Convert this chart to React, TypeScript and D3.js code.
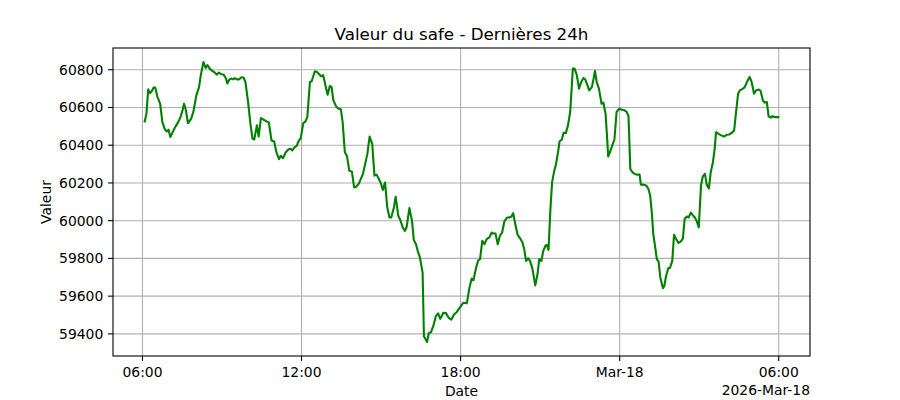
import { extent, line, scaleLinear } from "d3";

// minutes after 2026-03-17 06:00, one reading per sample
const minutes = [
  5, 9, 13, 17, 21, 25, 29, 34, 40, 45, 51, 55, 59, 63, 69, 75, 81, 86, 91, 94,
  98, 103, 110, 115, 122, 128, 132, 138, 143, 147, 153, 158, 164, 168, 173, 179, 184, 189, 192, 197,
  201, 205, 209, 214, 219, 224, 229, 233, 239, 244, 249, 253, 259, 263, 268, 274, 281, 286, 292, 298,
  303, 309, 313, 318, 324, 330, 335, 339, 344, 349, 354, 358, 364, 369, 373, 379, 383, 390, 395, 400,
  404, 409, 414, 419, 424, 428, 432, 438, 443, 449, 453, 458, 463, 468, 474, 479, 484, 490, 499, 504,
  509, 514, 520, 525, 530, 535, 540, 544, 549, 554, 559, 563, 569, 573, 579, 584, 589, 594, 598, 604,
  610, 614, 619, 623, 628, 634, 637, 644, 648, 653, 658, 664, 669, 674, 681, 687, 693, 699, 705, 711,
  719, 726, 734, 740, 745, 749, 755, 760, 764, 769, 774, 779, 785, 790, 794, 799, 804, 809, 814, 819,
  825, 830, 835, 839, 844, 849, 855, 860, 864, 868, 873, 877, 882, 889, 894, 898, 903, 907, 912, 915,
  919, 923, 927, 932, 936, 941, 944, 949, 953, 958, 963, 968, 971, 974, 978, 983, 988, 993, 998, 1002,
  1007, 1011, 1017, 1021, 1024, 1028, 1033, 1039, 1043, 1048, 1051, 1054, 1058, 1063, 1068, 1073, 1079, 1085, 1091, 1096,
  1100, 1104, 1109, 1114, 1120, 1125, 1128, 1134, 1140, 1145, 1149, 1153, 1156, 1161, 1164, 1168, 1172, 1178, 1181, 1185,
  1190, 1194, 1199, 1203, 1208, 1213, 1218, 1223, 1227, 1232, 1236, 1241, 1245, 1250, 1254, 1259, 1264, 1268, 1273, 1277,
  1282, 1286, 1291, 1295, 1298, 1304, 1310, 1316, 1322, 1328, 1334, 1339, 1343, 1348, 1352, 1359, 1363, 1368, 1374, 1378,
  1381, 1384, 1389, 1395, 1399, 1404, 1408, 1413, 1417, 1422, 1426, 1431, 1439
];

const values = [
  60526, 60567, 60696, 60677, 60686, 60705, 60705, 60655, 60620, 60522, 60483, 60473, 60482, 60443, 60473, 60500, 60522, 60549, 60588, 60620,
  60588, 60517, 60540, 60575, 60664, 60708, 60771, 60841, 60810, 60824, 60803, 60794, 60785, 60774, 60785, 60776, 60774, 60753, 60727, 60749,
  60753, 60749, 60756, 60749, 60749, 60760, 60758, 60735, 60630, 60520, 60434, 60430, 60505, 60446, 60544, 60535, 60526, 60521, 60425, 60420,
  60363, 60326, 60344, 60331, 60361, 60377, 60381, 60372, 60389, 60397, 60425, 60436, 60517, 60526, 60549, 60735, 60739, 60792, 60788, 60776,
  60765, 60771, 60718, 60668, 60714, 60708, 60638, 60607, 60594, 60590, 60522, 60363, 60341, 60265, 60260, 60177, 60180, 60198, 60248, 60301,
  60354, 60446, 60407, 60239, 60244, 60221, 60195, 60163, 60202, 60070, 60017, 60017, 60070, 60127, 60026, 60000, 59964, 59946, 59968, 60067,
  60000, 59897, 59875, 59840, 59804, 59724, 59388, 59357, 59405, 59409, 59441, 59494, 59509, 59480, 59512, 59510, 59485, 59476, 59503, 59515,
  59542, 59565, 59562, 59645, 59693, 59684, 59751, 59790, 59796, 59893, 59875, 59902, 59911, 59937, 59932, 59932, 59875, 59920, 59937, 59996,
  60017, 60017, 60022, 60040, 59978, 59925, 59905, 59884, 59849, 59787, 59801, 59787, 59751, 59657, 59716, 59796, 59787, 59840, 59867, 59872,
  59845, 60053, 60203, 60265, 60301, 60372, 60421, 60429, 60466, 60464, 60505, 60576, 60691, 60806, 60806, 60771, 60700, 60735, 60756, 60749,
  60718, 60691, 60708, 60753, 60794, 60735, 60700, 60620, 60626, 60567, 60460, 60340, 60363, 60398, 60429, 60576, 60594, 60588, 60585, 60576,
  60553, 60274, 60256, 60248, 60244, 60244, 60191, 60191, 60187, 60168, 60133, 60035, 59929, 59849, 59796, 59783, 59698, 59642, 59654, 59707,
  59748, 59751, 59787, 59925, 59902, 59882, 59889, 59905, 60009, 60022, 60017, 60043, 60031, 60017, 60000, 59964, 60186, 60234, 60248, 60191,
  60171, 60256, 60310, 60381, 60469, 60460, 60452, 60446, 60455, 60457, 60466, 60478, 60567, 60673, 60691, 60700, 60708, 60735, 60762, 60740,
  60708, 60673, 60691, 60695, 60687, 60638, 60626, 60629, 60553, 60546, 60554, 60549, 60549
];

const yTicks = [59400, 59600, 59800, 60000, 60200, 60400, 60600, 60800];
const xTickMinutes = [0, 360, 720, 1080, 1440];
const xTickLabels = ["06:00", "12:00", "18:00", "Mar-18", "06:00"];
const offsetLabel = "2026-Mar-18";
const title = "Valeur du safe - Dernières 24h";
const xLabel = "Date";
const yLabel = "Valeur";

function padded([lo, hi]: [number, number], frac = 0.05): [number, number] {
  const pad = (hi - lo) * frac;
  return [lo - pad, hi + pad];
}

export default function App() {
  const width = 900;
  const height = 400;
  const margin = { top: 48, right: 90, bottom: 44, left: 113 };
  const innerWidth = width - margin.left - margin.right;
  const innerHeight = height - margin.top - margin.bottom;

  const x = scaleLinear()
    .domain(padded(extent(minutes) as [number, number]))
    .range([0, innerWidth]);
  const y = scaleLinear()
    .domain(padded(extent(values) as [number, number]))
    .range([innerHeight, 0]);

  const points = minutes.map((m, i) => [m, values[i]] as [number, number]);
  const path = line<[number, number]>()
    .x((d) => x(d[0]))
    .y((d) => y(d[1]))(points);

  const font = "'DejaVu Sans', sans-serif";

  return (
    <>
      <style>{"body{margin:0}"}</style>
      <svg width={width} height={height} style={{ display: "block", background: "#fff" }} fontFamily={font}>
        <text x={margin.left + innerWidth / 2} y={40} textAnchor="middle" fontSize="16.7px" fill="#000">
          {title}
        </text>
        <g transform={`translate(${margin.left}, ${margin.top})`}>
          {yTicks.map((t) => (
            <g key={t}>
              <line x1={0} x2={innerWidth} y1={y(t)} y2={y(t)} stroke="#b0b0b0" strokeWidth="1.1" />
              <line x1={-4.9} x2={0} y1={y(t)} y2={y(t)} stroke="#000" strokeWidth="1.1" />
              <text x={-9.7} y={y(t)} dy="0.36em" textAnchor="end" fontSize="13.9px" fill="#000">
                {t}
              </text>
            </g>
          ))}
          {xTickMinutes.map((t, i) => (
            <g key={i}>
              <line x1={x(t)} x2={x(t)} y1={0} y2={innerHeight} stroke="#b0b0b0" strokeWidth="1.1" />
              <line x1={x(t)} x2={x(t)} y1={innerHeight} y2={innerHeight + 4.9} stroke="#000" strokeWidth="1.1" />
              <text x={x(t)} y={innerHeight + 20.5} textAnchor="middle" fontSize="13.9px" fill="#000">
                {xTickLabels[i]}
              </text>
            </g>
          ))}

          <path d={path ?? ""} fill="none" stroke="#008000" strokeWidth="2.1" strokeLinejoin="round" strokeLinecap="square" />

          <rect x={0} y={0} width={innerWidth} height={innerHeight} fill="none" stroke="#000" strokeWidth="1.1" />

          <text x={innerWidth} y={innerHeight + 39} textAnchor="end" fontSize="13.9px" fill="#000">
            {offsetLabel}
          </text>
          <text x={innerWidth / 2} y={innerHeight + 40} textAnchor="middle" fontSize="13.9px" fill="#000">
            {xLabel}
          </text>
          <text
            transform={`translate(${-62}, ${innerHeight / 2}) rotate(-90)`}
            textAnchor="middle"
            fontSize="13.9px"
            fill="#000"
          >
            {yLabel}
          </text>
        </g>
      </svg>
    </>
  );
}
